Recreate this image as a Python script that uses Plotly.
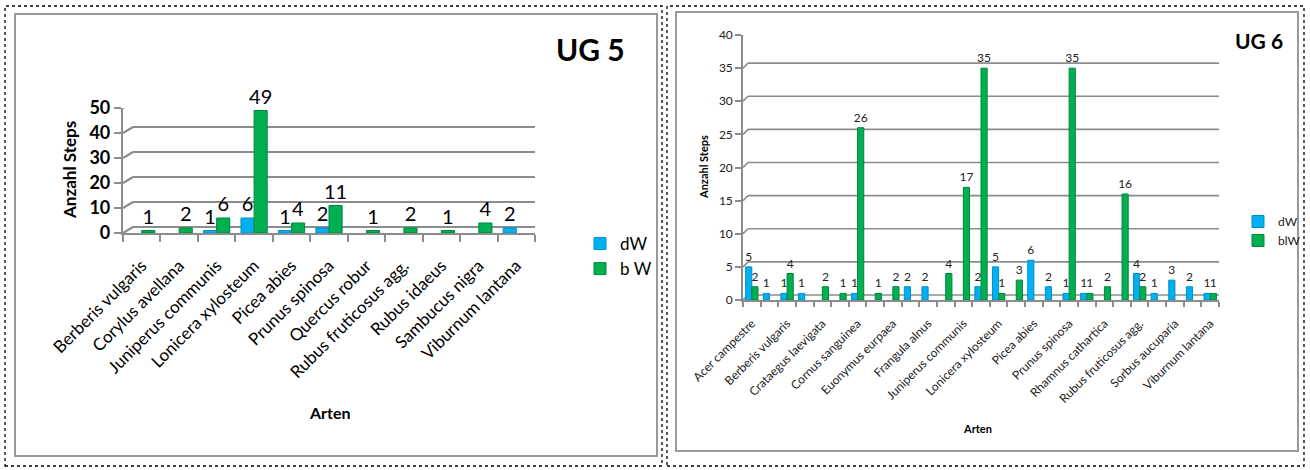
import plotly.graph_objects as go

W, H = 1310, 470
FONT = "Lato"
BLUE = "#00B0F0"
GREEN = "#00B050"
GRID = "#8C8C8C"

# ---- UG 5 ----
arten_ug5 = ["Berberis vulgaris", "Corylus avellana", "Juniperus communis",
             "Lonicera xylosteum", "Picea abies", "Prunus spinosa", "Quercus robur",
             "Rubus fruticosus agg.", "Rubus idaeus", "Sambucus nigra", "Viburnum lantana"]
dw_ug5 = [0, 0, 1, 6, 1, 2, 0, 0, 0, 0, 2]
bw_ug5 = [1, 2, 6, 49, 4, 11, 1, 2, 1, 4, 0]
yticks_ug5 = [0, 10, 20, 30, 40, 50]

# ---- UG 6 (27 species, every second one labelled on the axis) ----
arten_ug6_labels = ["Acer campestre", "Berberis vulgaris", "Crataegus laevigata",
                    "Cornus sanguinea", "Euonymus eurpaea", "Frangula alnus",
                    "Juniperus communis", "Lonicera xylosteum", "Picea abies",
                    "Prunus spinosa", "Rhamnus cathartica", "Rubus fruticosus agg.",
                    "Sorbus aucuparia", "Viburnum lantana"]
dw_ug6 = [5, 1, 1, 1, 0, 0, 1, 0, 0, 2, 2, 0, 0, 2, 5, 0, 6, 2, 1, 1, 0, 0, 4, 1, 3, 2, 1]
blw_ug6 = [2, 0, 4, 0, 2, 1, 26, 1, 2, 0, 0, 4, 17, 35, 1, 3, 0, 0, 35, 1, 2, 16, 2, 0, 0, 0, 1]
yticks_ug6 = [0, 5, 10, 15, 20, 25, 30, 35, 40]


def px_x(p):
    return p / W


def px_y(p):
    return 1 - p / H


def nz(vals):
    return [v if v else None for v in vals]


x5 = list(range(len(arten_ug5)))
x6 = list(range(len(dw_ug6)))

fig = go.Figure()


def bars(x, vals, name, color, edge, size, tcolor, xa, ya, leg):
    return go.Bar(x=x, y=nz(vals), name=name,
                  marker=dict(color=color, line=dict(color=edge, width=1)),
                  text=nz(vals), textposition="outside", cliponaxis=False,
                  constraintext="none",
                  textfont=dict(family=FONT, size=size, color=tcolor),
                  xaxis=xa, yaxis=ya, legend=leg)


fig.add_trace(bars(x5, dw_ug5, "dW", BLUE, "#0090C8", 20, "#000", "x", "y", "legend"))
fig.add_trace(bars(x5, bw_ug5, "b W", GREEN, "#00853C", 20, "#000", "x", "y", "legend"))
fig.add_trace(bars(x6, dw_ug6, "dW", BLUE, "#0090C8", 12, "#222", "x2", "y2", "legend2"))
fig.add_trace(bars(x6, blw_ug6, "blW", GREEN, "#00853C", 12, "#222", "x2", "y2", "legend2"))


def wall_grid(xref, yref, x_left, values, width_px, dx, dy, lw):
    """Gridlines drawn on the back wall, joined to the axis by short diagonals."""
    out = []
    for v in values:
        common = dict(type="line", xref=xref, yref=yref, xsizemode="pixel",
                      ysizemode="pixel", xanchor=x_left, yanchor=v, layer="below",
                      line=dict(color=GRID, width=lw))
        out.append(dict(common, x0=0, x1=dx, y0=0, y1=dy))
        out.append(dict(common, x0=dx, x1=dx + width_px, y0=dy, y1=dy))
    return out


shapes = []
# left plot: 123..535 px wide
shapes += wall_grid("x", "y", -0.5, yticks_ug5, 412, 10, 6, 2.2)
shapes.append(dict(type="line", xref="x", yref="y", xsizemode="pixel", ysizemode="pixel",
                   xanchor=10.5, yanchor=0, x0=0, x1=10, y0=0, y1=6,
                   line=dict(color=GRID, width=2.2)))
# right plot: 743..1219 px wide
shapes += wall_grid("x2", "y2", -0.5, yticks_ug6, 476, 5, 5, 1.6)
shapes.append(dict(type="line", xref="x2", yref="y2", xsizemode="pixel", ysizemode="pixel",
                   xanchor=26.5, yanchor=0, x0=0, x1=5, y0=0, y1=5,
                   line=dict(color=GRID, width=1.6)))

# panel frames: dotted outer border with a grey chart border inside
for (ox0, oy0, ox1, oy1), (ix0, iy0, ix1, iy1) in [
        ((5, 6, 662, 466), (15, 14, 657, 456)),
        ((667, 6, 1304, 466), (676, 12, 1298, 451))]:
    shapes.append(dict(type="rect", xref="paper", yref="paper",
                       x0=px_x(ox0), x1=px_x(ox1), y0=px_y(oy1), y1=px_y(oy0),
                       line=dict(color="#000", width=1.3, dash="dot")))
    shapes.append(dict(type="rect", xref="paper", yref="paper",
                       x0=px_x(ix0), x1=px_x(ix1), y0=px_y(iy1), y1=px_y(iy0),
                       line=dict(color="#9A9A9A", width=2)))


def label(text, x, y, size, angle=0):
    return dict(text=text, x=px_x(x), y=px_y(y), xref="paper", yref="paper",
                xanchor="center", yanchor="middle", textangle=angle, showarrow=False,
                font=dict(family=FONT, size=size, color="#000"))


annotations = [
    label("<b>UG 5</b>", 590, 49, 30),
    label("<b>Anzahl Steps</b>", 70, 170, 17, -90),
    label("<b>Arten</b>", 330, 412, 16),
    label("<b>UG 6</b>", 1259, 41, 21),
    label("<b>Anzahl Steps</b>", 703, 167, 11, -90),
    label("<b>Arten</b>", 978, 428, 11),
]

axis_line = dict(showline=True, linecolor=GRID, zeroline=False, showgrid=False)

fig.update_layout(
    width=W, height=H, margin=dict(l=0, r=0, t=0, b=0, autoexpand=False),
    paper_bgcolor="#FFFFFF", plot_bgcolor="rgba(0,0,0,0)",
    barmode="group", bargap=0.3, bargroupgap=0.0,
    font=dict(family=FONT),
    xaxis=dict(domain=[px_x(123), px_x(535)], range=[-0.5, 10.5], anchor="y",
               tickvals=x5, ticktext=arten_ug5, tickangle=-45, ticks="",
               ticklabelstandoff=14,
               tickfont=dict(family=FONT, size=17, color="#000"),
               minor=dict(tickvals=[i - 0.5 for i in range(len(x5) + 1)], ticks="outside",
                          ticklen=7, tickcolor=GRID, tickwidth=2),
               linewidth=2.2, **axis_line),
    yaxis=dict(domain=[px_y(233), px_y(108)], range=[0, 50], anchor="x",
               tickvals=yticks_ug5, ticks="outside", ticklen=7, tickcolor=GRID, tickwidth=2,
               tickfont=dict(family=FONT, size=18, color="#000", weight="bold"),
               linewidth=2.2, **axis_line),
    xaxis2=dict(domain=[px_x(743), px_x(1219)], range=[-0.5, 26.5], anchor="y2",
                tickvals=x6[::2], ticktext=arten_ug6_labels, tickangle=-45, ticks="",
                ticklabelstandoff=10,
                tickfont=dict(family=FONT, size=12, color="#222"),
                minor=dict(tickvals=[i - 0.5 for i in range(len(x6) + 1)], ticks="outside",
                           ticklen=5, tickcolor=GRID, tickwidth=1.5),
                linewidth=1.6, **axis_line),
    yaxis2=dict(domain=[px_y(300), px_y(35)], range=[0, 40], anchor="x2",
                tickvals=yticks_ug6, ticks="outside", ticklen=6, tickcolor=GRID, tickwidth=1.5,
                tickfont=dict(family=FONT, size=12, color="#222"),
                linewidth=1.6, **axis_line),
    legend=dict(x=px_x(580), y=px_y(226), xanchor="left", yanchor="top",
                font=dict(family=FONT, size=17, color="#000"), tracegroupgap=20,
                itemwidth=30, bgcolor="rgba(0,0,0,0)"),
    legend2=dict(x=px_x(1238), y=px_y(207), xanchor="left", yanchor="top",
                 font=dict(family=FONT, size=12, color="#222"), tracegroupgap=12,
                 itemwidth=30, bgcolor="rgba(0,0,0,0)"),
    shapes=shapes, annotations=annotations, showlegend=True,
)

fig.write_html("out.html")
